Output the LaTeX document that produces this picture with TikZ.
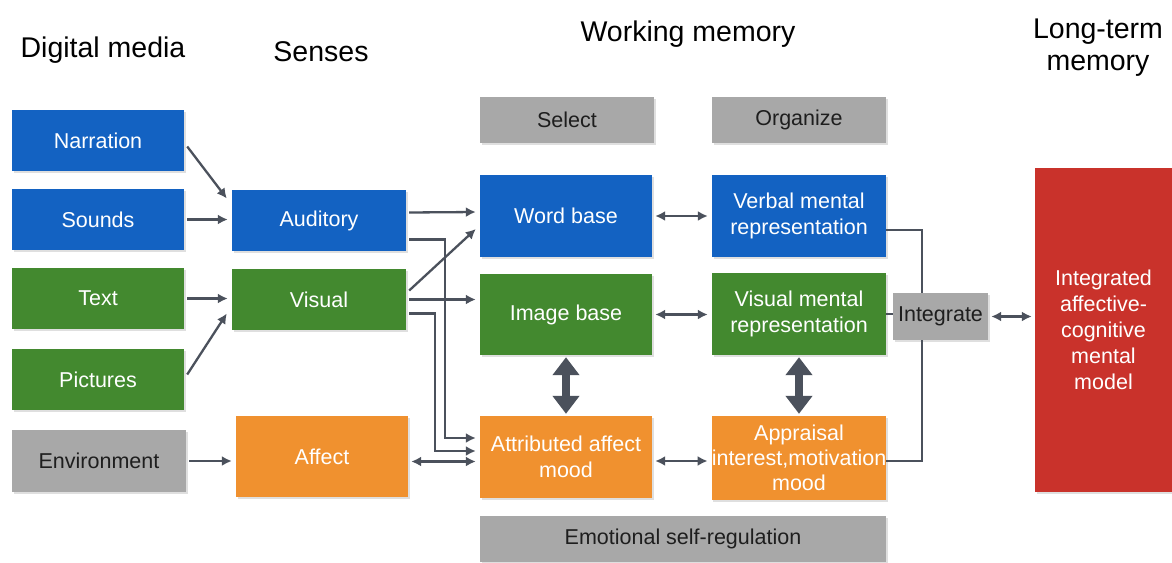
\documentclass[tikz,border=0pt]{standalone}
\usepackage{fontspec}
\setmainfont{Liberation Sans}
\usetikzlibrary{arrows.meta,calc,shadows}
\definecolor{cblue}{HTML}{1362C2}
\definecolor{cgreen}{HTML}{43892F}
\definecolor{corange}{HTML}{F0912F}
\definecolor{cgray}{HTML}{A8A8A8}
\definecolor{cred}{HTML}{C9322B}
\definecolor{carrow}{HTML}{4B515C}
\definecolor{ctext}{HTML}{1E1E1E}
\begin{document}
\begin{tikzpicture}[x=1pt,y=-1pt,
  box/.style={rectangle,inner sep=0pt,align=center,text=white,
    font=\fontsize{21.5}{26}\selectfont,
    drop shadow={shadow xshift=1.5pt,shadow yshift=-1.5pt,opacity=0.25}},
  bluebox/.style={box,fill=cblue},
  greenbox/.style={box,fill=cgreen},
  orangebox/.style={box,fill=corange},
  graybox/.style={box,fill=cgray,text=ctext},
  head/.style={font=\fontsize{28.5}{32}\selectfont,text=black,align=center},
  arr/.style={draw=carrow,line width=2.3pt,-{Latex[length=10pt,width=10pt]}},
  darr/.style={draw=carrow,line width=2.3pt,{Latex[length=10pt,width=10pt]}-{Latex[length=10pt,width=10pt]}},
  conn/.style={draw=carrow,line width=2.3pt},
  thick2/.style={draw=carrow,line width=8pt,{Triangle[length=18pt,width=26pt]}-{Triangle[length=18pt,width=26pt]}}
]
\useasboundingbox (0,0) rectangle (1172,562);
\fill[white] (0,0) rectangle (1172,562);

% headers
\node[head] (hdm) at (103,50) {Digital media};
\node[head] (hse) at (321,52) {Senses};
\node[head] (hwm) at (688,34) {Working memory};
\node[head] (hlt) at (1098,48) {Long-term\\memory};

% digital media
\node[bluebox,minimum width=172pt,minimum height=61pt] (narr) at (98,140.5) {Narration};
\node[bluebox,minimum width=172pt,minimum height=61pt] (sounds) at (98,219.5) {Sounds};
\node[greenbox,minimum width=172pt,minimum height=61pt] (text) at (98,298.5) {Text};
\node[greenbox,minimum width=172pt,minimum height=61pt] (pict) at (98,379.5) {Pictures};
\node[graybox,minimum width=174pt,minimum height=62pt] (env) at (99,461) {Environment};

% senses
\node[bluebox,minimum width=174pt,minimum height=61pt] (aud) at (319,220.5) {Auditory};
\node[greenbox,minimum width=174pt,minimum height=61pt] (vis) at (319,299.5) {Visual};
\node[orangebox,minimum width=172pt,minimum height=81pt] (affect) at (322,456.5) {Affect};

% working memory
\node[graybox,minimum width=174pt,minimum height=46pt] (select) at (567,120) {Select};
\node[graybox,minimum width=174pt,minimum height=46pt] (organize) at (799,120) {Organize};
\node[bluebox,minimum width=172pt,minimum height=82pt] (word) at (566,216) {Word base};
\node[greenbox,minimum width=172pt,minimum height=81pt] (image) at (566,314.5) {Image base};
\node[orangebox,minimum width=172pt,minimum height=82pt] (attr) at (566,457) {Attributed affect\\mood};
\node[bluebox,minimum width=174pt,minimum height=82pt] (verbal) at (799,216) {Verbal mental\\representation};
\node[greenbox,minimum width=174pt,minimum height=82pt] (vismen) at (799,314) {Visual mental\\representation};
\node[orangebox,minimum width=174pt,minimum height=84pt,font=\fontsize{21.5}{25}\selectfont] (appr) at (799,458) {Appraisal\\interest,motivation\\mood};
\node[graybox,minimum width=95pt,minimum height=47pt] (integ) at (940.5,316.5) {Integrate};
\node[graybox,minimum width=406pt,minimum height=46pt] (emo) at (683,539) {Emotional self-regulation};

% long-term memory
\node[box,fill=cred,minimum width=137pt,minimum height=324pt] (ltm) at (1103.5,330) {Integrated\\affective-\\cognitive\\mental\\model};

% connectors: media -> senses
\draw[arr] ([xshift=3pt,yshift=-6pt]narr.east) -- ([xshift=-5pt,yshift=22pt]aud.west);
\draw[arr] ([xshift=3pt]sounds.east) -- ([xshift=-4pt]sounds.east -| aud.west);
\draw[arr] ([xshift=3pt]text.east) -- ([xshift=-4pt]text.east -| vis.west);
\draw[arr] ([xshift=3pt,yshift=5pt]pict.east) -- ([xshift=-5pt,yshift=-14pt]vis.west);
\draw[arr] ([xshift=3pt]env.east) -- ([xshift=-4pt]env.east -| affect.west);

% senses -> working memory
\draw[arr] ([xshift=3pt,yshift=8pt]aud.east) -- ([xshift=-4pt,yshift=4pt]word.west);
\draw[arr] ([xshift=3pt,yshift=9pt]vis.east) -- ([xshift=-4pt,yshift=-13pt]word.west);
\draw[arr] ([xshift=3pt]vis.east) -- ([xshift=-4pt]vis.east -| image.west);
\draw[arr] ([xshift=3pt,yshift=-19pt]aud.east) -| ([xshift=-35pt,yshift=19pt]attr.west) -- ([xshift=-4pt,yshift=19pt]attr.west);
\draw[arr] ([xshift=3pt,yshift=-14pt]vis.east) -| ([xshift=-45pt,yshift=6pt]attr.west) -- ([xshift=-4pt,yshift=6pt]attr.west);
\draw[darr] ([xshift=3pt,yshift=-5pt]affect.east) -- ([xshift=-4pt,yshift=-5pt]affect.east -| attr.west);

% within working memory
\draw[darr] ([xshift=3pt]word.east) -- ([xshift=-4pt]word.east -| verbal.west);
\draw[darr] ([xshift=3pt]image.east) -- ([xshift=-4pt]image.east -| vismen.west);
\draw[darr] ([xshift=3pt,yshift=-4pt]attr.east) -- ([xshift=-4pt,yshift=-4pt]attr.east -| appr.west);
\draw[thick2] ([yshift=-2pt]image.south) -- ([yshift=2pt]attr.north);
\draw[thick2] ([yshift=-2pt]vismen.south) -- ([yshift=2pt]appr.north);

% integrate
\draw[conn] ([yshift=-14pt]verbal.east) -| ([xshift=-18.5pt]integ.north);
\draw[conn] ([yshift=-3pt]appr.east) -| ([xshift=-18.5pt]integ.south);
\draw[conn] (vismen.east) -- (vismen.east -| integ.west);
\draw[darr] ([xshift=3pt]integ.east) -- ([xshift=-3pt]integ.east -| ltm.west);
\end{tikzpicture}
\end{document}
